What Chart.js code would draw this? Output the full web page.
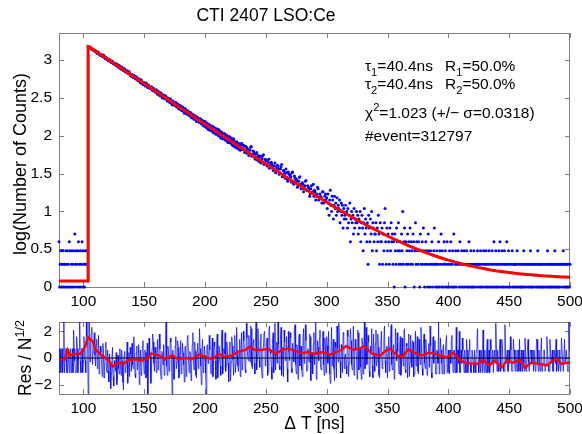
<!DOCTYPE html>
<html>
<head>
<meta charset="utf-8">
<script src="https://cdn.jsdelivr.net/npm/chart.js@4.4.1/dist/chart.umd.min.js"></script>
<style>
  body { margin: 0; background: #fff; }
  canvas { position: absolute; left: 0; }
  #decayChart { top: 0; }
  #resChart { top: 316px; }
</style>
</head>
<body>
<canvas id="decayChart" width="582" height="316"></canvas>
<canvas id="resChart" width="582" height="118"></canvas>
<script>
// ---- data ----
// log10(counts) per 0.5 ns bin, 80 .. 103.5 ns (before the rise)
var preRiseLog = [
  0.6, 0, 0.3, 0.48, 0, 0.3, 0.48, 0,
  0.3, 0.3, 0, 0.48, 0.3, 0, 0.48, 0.3,
  0, 0.6, 0.48, 0, 0.3, 0.48, 0, 0.3,
  0.48, 0, 0.7, 0.3, 0.48, 0, 0.3, 0.48,
  0.6, 0, 0.3, 0.48, 0, 0.3, 0.6, 0.48,
  0, 0.3, 0, 0.48, 0.3, 0.48, 0.3, 0.3
];
// log10(counts), whole-ns bins 104 .. 299 ns
var decayLog = [
  3.18, 3.17, 3.16, 3.15, 3.14, 3.13,
  3.13, 3.10, 3.11, 3.08, 3.07,
  3.07, 3.05, 3.06, 3.02, 3.03,
  3.02, 2.99, 3.00, 2.97, 2.98,
  2.95, 2.96, 2.93, 2.94, 2.91,
  2.92, 2.88, 2.89, 2.86, 2.88,
  2.84, 2.86, 2.82, 2.83, 2.79,
  2.81, 2.77, 2.79, 2.75, 2.77,
  2.73, 2.75, 2.70, 2.72, 2.68,
  2.70, 2.66, 2.69, 2.64, 2.66,
  2.63, 2.65, 2.60, 2.62, 2.58,
  2.61, 2.55, 2.57, 2.53, 2.56,
  2.50, 2.54, 2.49, 2.52, 2.46,
  2.49, 2.44, 2.47, 2.41, 2.45,
  2.40, 2.44, 2.38, 2.41, 2.35,
  2.39, 2.33, 2.37, 2.30, 2.35,
  2.29, 2.33, 2.27, 2.31, 2.24,
  2.28, 2.22, 2.26, 2.19, 2.24,
  2.18, 2.23, 2.16, 2.20, 2.13,
  2.19, 2.11, 2.16, 2.08, 2.14,
  2.07, 2.13, 2.04, 2.10, 2.02,
  2.09, 2.00, 2.06, 1.97, 2.04,
  1.96, 2.03, 1.94, 2.00, 1.91,
  1.99, 1.90, 1.95, 1.87, 1.93,
  1.85, 1.92, 1.83, 1.89, 1.81,
  1.90, 1.82, 1.87, 1.79, 1.85,
  1.83, 1.74, 1.81, 1.86, 1.75,
  1.79, 1.70, 1.76, 1.68, 1.74,
  1.72, 1.64, 1.70, 1.75, 1.63,
  1.67, 1.60, 1.65, 1.57, 1.63,
  1.62, 1.54, 1.60, 1.51, 1.58,
  1.60, 1.49, 1.56, 1.62, 1.47,
  1.53, 1.44, 1.51, 1.40, 1.49,
  1.48, 1.39, 1.52, 1.36, 1.44,
  1.43, 1.32, 1.40, 1.46, 1.30,
  1.38, 1.26, 1.34, 1.41, 1.28,
  1.32, 1.20, 1.30, 1.25, 1.36,
  1.28, 1.15, 1.23, 1.30, 1.18,
  1.20, 1.11, 1.26, 1.15, 1.23
];
// log10(counts), half-ns bins 104.5 .. 299.5 ns
var decayLogHalf = [
  3.17, 3.17, 3.15, 3.15, 3.13, 3.12,
  3.12, 3.09, 3.10, 3.07, 3.08,
  3.05, 3.07, 3.03, 3.04, 3.01,
  3.00, 3.01, 2.98, 2.99, 2.96,
  2.96, 2.94, 2.95, 2.91, 2.93,
  2.89, 2.91, 2.87, 2.89, 2.85,
  2.86, 2.83, 2.85, 2.81, 2.80,
  2.78, 2.80, 2.76, 2.78, 2.74,
  2.75, 2.72, 2.74, 2.70, 2.71,
  2.68, 2.70, 2.65, 2.67, 2.63,
  2.64, 2.61, 2.63, 2.59, 2.60,
  2.56, 2.59, 2.54, 2.57, 2.52,
  2.53, 2.50, 2.53, 2.48, 2.50,
  2.46, 2.49, 2.43, 2.46, 2.42,
  2.43, 2.39, 2.42, 2.36, 2.40,
  2.35, 2.38, 2.32, 2.36, 2.31,
  2.32, 2.28, 2.31, 2.25, 2.29,
  2.24, 2.27, 2.21, 2.25, 2.20,
  2.22, 2.17, 2.21, 2.14, 2.19,
  2.12, 2.17, 2.09, 2.15, 2.07,
  2.12, 2.05, 2.11, 2.03, 2.09,
  2.02, 2.08, 1.99, 2.05, 1.96,
  2.02, 1.95, 2.01, 1.92, 1.98,
  1.91, 1.97, 1.88, 1.96, 1.86,
  1.91, 1.84, 1.90, 1.82, 1.88,
  1.84, 1.88, 1.78, 1.86, 1.77,
  1.82, 1.77, 1.85, 1.73, 1.80,
  1.76, 1.69, 1.78, 1.72, 1.66,
  1.73, 1.67, 1.74, 1.62, 1.69,
  1.68, 1.61, 1.69, 1.58, 1.65,
  1.60, 1.56, 1.64, 1.53, 1.61,
  1.56, 1.51, 1.59, 1.46, 1.54,
  1.50, 1.56, 1.43, 1.52, 1.45,
  1.46, 1.51, 1.38, 1.47, 1.40,
  1.41, 1.34, 1.45, 1.36, 1.31,
  1.36, 1.30, 1.40, 1.28, 1.34,
  1.30, 1.23, 1.34, 1.26, 1.20,
  1.26, 1.20, 1.32, 1.15, 1.23,
  1.18, 1.26, 1.11, 1.20, 1.15
];
// log10(counts) per 0.5 ns bin, 300 .. 500 ns (null = empty bin)
var tailLog = [
  1.18, 1.04, 1.23, 1.11, 0.95, 1.15, 1.28, 1.08, 1.0, 1.2,
  1.15, 0.9, 1.08, 1.2, 1.04, 1.11, 0.95, 1.18, 1.0, 1.08,
  1.04, 1.15, 0.85, 1.0, 1.11, 0.95, 1.08, 0.78, 1.04, 0.9,
  0.95, 1.08, 0.9, 1.0, 0.78, 1.04, 0.85, 0.95, 1.11, 0.6,
  0.9, 1.0, 0.85, 0.95, 0.7, 1.04, 0.78, 0.9, 0.85, 1.0,
  0.85, 0.95, 0.7, 0.9, 0.78, 1.0, 0.6, 0.85, 0.95, 0.78,
  0.48, 0.85, 1.04, 0.7, 0.9, 0.78, 0.6, 0.85, 0.3, 0.95,
  0.78, 0.6, 0.9, 0.7, 1.0, 0.48, 0.85, 0.78, 0.6, 0.7,
  0.7, 0.85, 0.48, 0.78, 0.6, 0.95, 0.7, 0.3, 0.85, 0.6,
  0.6, 0.78, 0.3, 0.7, 0.48, 0.85, 1.04, 0.6, 0.3, 0.78,
  0.48, 0.7, 0.6, 0.3, 0.78, 0.48, 0.85, 0.6, 0.7, 0.3,
  0.6, 0, 0.7, 0.48, 0.3, 0.78, 0.6, 0.48, 0.85, 0.3,
  0.48, 0.6, 0.3, 0.7, 0.48, 1.0, 0.3, 0.6, 0.78, 0,
  0.6, 0.3, 0.48, 0.7, 0.3, 0.6, 0.48, 0.78, 0.3, 0.6,
  0.48, 0.3, 0.7, 0.6, 0, 0.48, 0.85, 0.3, 0.6, 0.48,
  0.3, 0.6, 0.48, 0, 0.7, 0.3, 0.48, 0.6, 0.3, 0.78,
  0.48, 0, 0.3, 0.6, 0.48, 0.3, 0, 0.7, 0.48, 0.3,
  0, 0.48, 0.3, 0.6, 0, 0.3, 0.48, 0.78, 0.3, 0,
  0.3, 0.48, 0, 0.3, 0.6, 0, 0.48, 0.3, 0.7, 0,
  0.48, 0.3, 0, 0.6, 0.3, 0.48, 0, 0.3, 0.6, 0,
  0.3, 0, 0.48, 0.3, 0.6, 0, 0.3, 0.48, 0, 0.7,
  0, 0.3, 0.48, 0, 0.3, null, 0.48, 0.3, 0, 0.6,
  0.3, 0, 0.48, 0.3, 0, 0.3, 0.48, 0, null, 0.3,
  0.48, 0, 0.3, 0, 0.6, 0.3, 0, 0.48, 0.3, 0,
  0, 0.3, 0.48, 0, 0.3, null, 0.3, 0, 0.48, 0.3,
  0.3, 0, 0.3, 0.48, 0, 0.3, 0, null, 0.48, 0.3,
  0, 0.3, 0.48, 0, 0.3, 0, 0.3, 0.48, 0, null,
  0.3, 0, 0.48, 0.3, 0, 0.6, 0.3, 0, 0.48, 0.3,
  0, 0.3, 0, 0.48, 0.3, 0.6, 0, 0.3, 0.48, 0,
  0.3, 0, 0.48, 0.3, 0, 0.3, 0.6, 0, 0.3, 0.48,
  0, 0.3, 0, null, 0.3, 0.48, 0, 0.3, 0, 0.3,
  0.3, 0, 0.3, 0.48, 0, 0.3, null, 0, 0.3, 0,
  0, 0.3, 0, 0.3, 0.48, 0, 0.3, 0, 0.3, null,
  0.3, 0, 0.3, 0, 0.3, 0.48, 0, 0.3, 0, 0.3,
  0, 0.3, null, 0.3, 0, 0.3, 0, 0.48, 0.3, 0,
  0.3, 0, 0.3, 0, 0.3, 0, 0.3, 0, null, 0.3,
  0, 0.3, 0, 0.48, 0.3, 0, 0.3, 0, 0.3, 0,
  0.3, 0, 0.3, 0, 0.3, 0.48, 0, 0.3, 0, 0.3,
  0, 0.3, 0, 0.3, 0, 0.3, null, 0.3, 0, 0.48,
  0.3, 0, 0.3, 0, 0.3, 0, 0.3, 0, 0.3, 0,
  0.3
];
// fitted curve: flat background, rise at 104 ns, then values every 5 ns from 105 to 500
var fitBackground = 0.08;
var fitRiseTime = 104;
var fitPeak = 3.18;
var fitLog = [
  3.175, 3.121, 3.067, 3.013, 2.960, 2.906, 2.852, 2.798, 2.745, 2.691,
  2.637, 2.583, 2.530, 2.476, 2.422, 2.368, 2.315, 2.261, 2.207, 2.156,
  2.103, 2.050, 1.998, 1.945, 1.892, 1.839, 1.786, 1.734, 1.681, 1.629,
  1.577, 1.525, 1.473, 1.422, 1.371, 1.320, 1.270, 1.220, 1.171, 1.122,
  1.073, 1.026, 0.979, 0.933, 0.887, 0.843, 0.799, 0.757, 0.715, 0.675,
  0.636, 0.599, 0.563, 0.529, 0.496, 0.464, 0.435, 0.407, 0.380, 0.356,
  0.332, 0.311, 0.291, 0.273, 0.256, 0.241, 0.226, 0.213, 0.202, 0.191,
  0.181, 0.173, 0.165, 0.158, 0.151, 0.146, 0.141, 0.136, 0.132, 0.129
];
// residuals at whole ns, 80 .. 500 ns
var residuals = [
  -1.1, 0.7, -0.2, -1.1, 2.7, -0.2, 0.7, -1.1, 0.7, -0.2,
  -1.1, 0.7, 2.1, -0.2, -1.1, 0.7, -0.2, 2.7, -1.1, 0.7,
  -0.2, 0.7, -1.1, 1.6, -2.7, 2.7, 1.2, 2.3, 0.4, 1.9,
  -0.6, 1.4, 0.3, -1.2, 0.9, -0.4, 1.1, -1.5, 0.2, -0.9,
  0.6, -1.8, -0.3, -1.1, 0.8, -2.1, -0.5, 0.4, -1.6, -0.8,
  0.7, -1.3, -0.2, -2.4, 0.5, -0.9, 1.2, -0.6, -1.4, 0.3,
  1.1, -0.8, 0.2, -1.5, 0.9, -0.3, -2.0, 0.6, -0.7, 1.3,
  -1.2, 0.4, -0.8, -2.7, 1.5, 0.1, -0.9, 1.8, -0.4, 0.8,
  -1.1, 1.4, -0.2, 0.7, -1.6, 0.3, 1.0, -0.8, 2.7, -1.3,
  0.5, -0.6, 1.2, -2.7, 0.2, -1.0, 1.6, -0.3, 0.8, -1.4,
  1.3, -0.7, 0.4, -1.8, 0.9, -0.2, 1.7, -1.1, 0.3, -0.6,
  1.9, -0.9, 0.5, -1.5, 1.1, -0.4, 0.7, -2.0, 1.4, -0.5,
  0.2, -2.7, 1.0, -0.3, 0.6, -1.2, 1.5, -0.7, 0.9, -1.6,
  1.8, -0.2, 0.4, -1.3, 2.1, -0.8, 0.3, -1.0, 1.2, -0.4,
  0.8, -1.7, 1.6, -0.1, 0.5, -1.1, 2.3, -0.6, 0.2, -1.4,
  1.9, -0.5, 1.3, -0.9, 2.6, 0.1, 1.7, -0.3, 2.2, -0.8,
  1.4, -1.2, 2.7, 0.2, 1.0, -0.7, 1.8, -1.5, 0.6, 2.0,
  -0.4, 1.5, -1.0, 2.4, 0.3, -1.6, 1.9, 0.0, -0.9, 1.2,
  2.7, -0.6, 1.3, -1.3, 0.8, 2.1, -0.2, 1.6, -1.8, 0.5,
  1.9, -0.8, 1.1, -0.3, 2.5, -1.2, 0.7, 1.4, -0.6, 0.9,
  -1.4, 2.2, 0.1, 1.3, -0.9, 0.6, 1.8, -1.7, 0.4, 1.0,
  -0.5, 2.7, -1.1, 0.8, 1.5, -0.7, 0.3, 2.0, -1.3, 0.9,
  1.6, -0.4, 0.2, -1.9, 2.3, 0.5, -0.8, 1.2, -1.5, 0.7,
  2.6, -0.3, 1.0, -1.1, 1.8, 0.2, -0.6, 2.1, -1.4, 0.8,
  1.3, -0.9, 2.4, -0.2, 0.6, -1.6, 1.9, 0.1, -0.7, 1.5,
  -1.2, 2.7, 0.4, -0.5, 1.7, -1.0, 0.9, 2.2, -1.5, 0.3,
  1.1, -0.6, 1.8, -1.3, 0.5, 2.0, -0.8, 1.4, -0.2, 0.7,
  -1.5, 1.6, 0.2, 2.5, -0.9, 1.0, -1.2, 0.6, 1.9, -0.4,
  0.8, -1.3, 1.5, -0.6, 2.2, -1.1, 0.9, 0.1, -1.4, 1.7,
  -0.7, 1.2, -1.2, 2.0, 0.3, -1.0, 1.4, -0.5, 0.7, -1.3,
  1.8, -0.8, 0.5, -1.2, 1.1, 2.4, -1.1, 0.6, -0.4, 1.3,
  -1.2, 0.5, 2.7, -0.6, 0.6, -1.2, 1.0, -0.4, 0.6, -1.1,
  0.6, -1.2, -0.4, 1.7, -1.1, 0.6, -0.4, -1.1, 0.6, 2.0,
  -1.1, -0.4, 0.6, -1.1, -0.4, 1.4, -1.1, 0.6, -0.4, -1.1,
  0.6, -1.1, -0.4, 0.6, 2.2, -1.1, -0.4, 0.6, -1.1, -0.4,
  0.6, -1.1, 1.4, -0.4, -1.1, 0.6, -0.4, -1.1, 0.6, 2.6,
  -1.0, -0.4, 0.6, -1.0, 1.4, -0.4, -1.0, 0.6, -0.4, -1.0,
  0.6, 1.6, -1.0, -0.4, 0.6, -1.0, -0.4, 0.6, -1.0, -0.4,
  0.6, -1.0, -0.4, 1.5, -1.0, 0.6, -0.4, -1.0, 0.6, -0.4,
  -1.0, 0.6, -0.4, 1.4, -1.0, -0.4, 0.6, -1.0, -0.4, 0.6,
  -1.0, 1.6, -0.4, -1.0, 0.6, -0.4, -1.0, 0.6, -0.4, -1.0,
  0.6, -0.4, -1.0, 1.5, 0.6, -1.0, -0.4, 0.6, -1.0, 2.7,
  0.6
];
// residuals at half ns, 80.5 .. 499.5 ns
var residualsHalf = [
  0.7, -1.1, 0.7, -0.2, -1.1, 0.7, -1.1, -0.2, -1.1, 0.7,
  -0.2, -1.1, 0.7, -1.1, 1.6, -1.1, 0.7, -0.2, 0.7, -1.1,
  1.6, -0.2, 2.7, 0.9, 2.7, -0.3, 1.8, -0.5, 1.3, 0.2,
  1.0, -0.8, 1.7, -0.3, 0.4, -1.4, 0.8, -0.6, 1.2, -1.1,
  -1.0, 0.3, -2.3, 0.1, -1.4, -0.2, -1.0, -2.0, 0.2, -1.2,
  -0.4, 0.6, -1.8, 0.2, -1.1, -0.3, -1.9, 0.4, 0.8, -1.0,
  -0.5, 1.6, -1.2, 0.4, -0.9, 1.0, -0.6, -1.3, 0.9, -0.2,
  0.6, -1.5, 1.1, -0.4, 0.3, -1.9, 0.7, 1.2, -1.0, 0.1,
  0.4, -0.9, 1.8, -1.2, 0.5, -0.5, -1.3, 1.1, -0.6, 0.9,
  -1.0, 1.5, -0.4, 0.6, -1.6, 0.9, -0.8, 1.3, -1.5, 0.4,
  -1.2, 1.1, -0.5, 0.8, -1.4, 1.6, -0.3, 0.5, -1.7, 1.0,
  -0.3, 1.2, -1.3, 0.6, -0.8, 2.2, -0.6, 0.4, -1.1, 0.9,
  -1.1, 0.8, -0.4, 1.7, -0.9, 0.3, -1.4, 1.2, -0.2, 0.6,
  -1.5, 0.9, -0.6, 1.4, -1.2, 0.7, 1.9, -0.5, 0.2, -1.8,
  1.2, -0.3, 0.9, -1.3, 1.7, -0.4, 0.6, -1.0, 1.4, 0.3,
  -0.9, 2.0, 0.4, -1.1, 1.5, -0.2, 0.8, 2.4, -0.6, 1.2,
  -0.4, 1.6, -0.9, 2.2, -0.1, 1.3, -1.0, 0.7, 1.9, -0.6,
  1.1, -1.3, 2.0, 0.5, -0.7, 1.4, -1.1, 2.6, 0.2, -0.4,
  1.0, -0.9, 2.3, 0.1, -1.4, 1.2, 0.4, -0.8, 2.0, -0.2,
  1.5, -1.1, 0.6, 2.2, -0.5, 1.0, -1.6, 1.8, 0.3, -0.9,
  1.2, -0.4, 2.5, -1.0, 0.7, -0.3, 1.6, 0.2, -1.2, 1.9,
  0.4, -1.6, 1.3, -0.2, 2.1, -0.9, 0.8, -0.5, 1.5, -1.1,
  0.9, 2.0, -1.2, 0.5, -0.6, 1.4, -1.7, 0.8, 2.4, -0.3,
  1.1, -1.5, 0.6, 1.9, -0.8, 0.3, -1.2, 1.6, -0.4, 2.2,
  -0.5, 0.9, -1.3, 1.4, 0.2, 2.1, -0.9, 0.7, -1.6, 1.0,
  0.6, -0.8, 2.3, -0.1, 1.2, -1.4, 0.5, -0.6, 1.8, -1.0,
  2.1, -0.3, 0.8, -1.5, 1.3, -0.7, 0.4, 2.4, -1.1, 0.9,
  0.3, -1.0, 1.4, -0.5, 0.7, -1.6, 2.2, -0.2, 0.5, -1.2,
  1.6, -0.4, 0.2, 2.0, -0.9, 1.1, -1.5, 1.8, -0.3, 0.6,
  1.3, -1.4, 0.8, -0.6, 1.6, -1.2, 0.2, 2.3, -0.8, 1.0,
  -0.4, 1.4, -1.3, 0.6, -0.7, 0.9, -1.5, 1.6, 0.2, -1.2,
  0.6, -0.4, -1.2, 1.5, -0.4, 0.6, -1.2, 0.6, 1.7, -0.4,
  -1.1, 0.6, 1.4, -0.4, 0.6, -1.1, 2.3, 0.6, -0.4, -1.1,
  0.6, 1.5, -0.4, 0.6, -1.1, 0.6, -0.4, 1.4, -1.1, 0.6,
  -0.4, 0.6, -1.1, 1.4, -0.4, 0.6, -1.1, 0.6, 2.1, -1.1,
  -0.4, 0.6, -1.1, 0.6, 1.4, -0.4, 0.6, -1.1, -0.4, 0.6,
  0.6, -1.0, 1.4, -0.4, 0.6, -1.0, 2.5, -0.4, 0.6, -1.0,
  -0.4, 0.6, -1.0, 1.4, -0.4, 0.6, -1.0, 0.6, 1.4, -1.0,
  -0.4, 0.6, -1.0, 0.6, -0.4, 1.4, -1.0, 0.6, -0.4, 0.6,
  0.6, -1.0, 1.4, -0.4, 0.6, -1.0, 1.5, -0.4, 0.6, -1.0,
  -0.4, 0.6, -1.0, 1.4, -0.4, 0.6, -1.0, 0.6, 1.4, -0.4,
  -1.0, 0.6, -0.4, 0.6, -1.0, 1.4, -0.4, 0.6, -1.0, 0.6
];
// smoothed residual (red), [time ns, value]
var smoothRes = [
  [80, -0.1], [85, -0.1], [87, 0.6], [89, 0.2], [92, 0.3], [97, 0.3], [100, 0.6],
  [102, 1.0], [104, 1.55], [106, 1.4], [108, 1.2], [110, 0.6], [113, 0.4], [115, 0.2],
  [118, 0.0], [121, -0.2], [124, -0.65], [126, -0.5], [129, -0.35], [133, -0.45],
  [137, -0.15], [142, -0.1], [148, -0.2], [153, 0.0], [156, 0.35], [162, 0.2],
  [167, -0.1], [173, 0.2], [178, -0.1], [184, 0.0], [189, -0.1], [195, 0.25],
  [200, 0.1], [206, -0.1], [211, 0.3], [216, 0.1], [222, 0.2], [227, 0.45],
  [233, 0.6], [237, 0.85], [241, 0.6], [247, 0.6], [252, 0.7], [258, 0.3],
  [263, 0.6], [268, 0.7], [274, 0.55], [279, 0.35], [285, 0.45], [289, 0.3],
  [297, 0.45], [303, 0.25], [308, 0.45], [312, 0.6], [316, 0.9], [322, 0.6],
  [327, 0.7], [331, 0.9], [337, 0.35], [344, 0.2], [348, 0.5], [352, 0.7],
  [358, 0.2], [362, 0.05], [367, 0.65], [373, 0.35], [379, 0.2], [384, 0.4],
  [388, 0.35], [393, 0.2], [399, 0.05], [404, 0.4], [407, 0.1], [410, -0.2],
  [415, -0.4], [420, -0.4], [423, -0.45], [429, -0.2], [434, -0.55], [438, -0.2],
  [444, -0.7], [448, -0.2], [453, -0.35], [459, -0.15], [463, -0.75], [468, -0.35],
  [475, -0.45], [481, -0.55], [486, -0.2], [489, -0.05], [493, -0.45], [498, -0.35],
  [500, -0.35]
];
var xTickValues = [100, 150, 200, 250, 300, 350, 400, 450, 500];
var countTickValues = [0, 0.5, 1, 1.5, 2, 2.5, 3];
var resTickValues = [-2, 0, 2];

// ---- build point lists ----
var scatterPts = [];
preRiseLog.forEach(function (v, i) { scatterPts.push({ x: 80 + i * 0.5, y: v }); });
decayLog.forEach(function (v, i) {
  scatterPts.push({ x: 104 + i, y: v });
  scatterPts.push({ x: 104.5 + i, y: decayLogHalf[i] });
});
tailLog.forEach(function (v, i) { scatterPts.push({ x: 300 + i * 0.5, y: v }); });

var fitPts = [{ x: 80, y: fitBackground }, { x: fitRiseTime, y: fitBackground }, { x: fitRiseTime, y: fitPeak }];
fitLog.forEach(function (v, i) { fitPts.push({ x: 105 + i * 5, y: v }); });

var resPts = [];
residuals.forEach(function (v, i) {
  resPts.push({ x: 80 + i, y: v });
  if (i < residualsHalf.length) resPts.push({ x: 80.5 + i, y: residualsHalf[i] });
});
var smoothPts = smoothRes.map(function (p) { return { x: p[0], y: p[1] }; });

var FONT = '"Liberation Sans", Arial, Helvetica, sans-serif';
var FRAME = '#7f7f7f';

function fixTicks(values) {
  return function (scale) { scale.ticks = values.map(function (v) { return { value: v }; }); };
}
function fitX(h) {
  return function (s) { s.height = h; s.paddingLeft = 0; s.paddingRight = 0; };
}
function fitY(s) { s.width = 59; s.paddingTop = 0; s.paddingBottom = 0; }
function tickText(v) { return String(v).replace('-', '−'); }

// text with sub/superscripts: parts = [[text, mode]] mode -1 sub, 1 sup
function drawRich(ctx, x, y, parts, size) {
  var cx = x;
  parts.forEach(function (p) {
    var s = p[1] ? size * 0.72 : size;
    ctx.font = s + 'px ' + FONT;
    var dy = p[1] === -1 ? size * 0.32 : (p[1] === 1 ? -size * 0.42 : 0);
    ctx.fillText(p[0], cx, y + dy);
    cx += ctx.measureText(p[0]).width;
  });
  return cx - x;
}
function richWidth(ctx, parts, size) {
  var w = 0;
  parts.forEach(function (p) {
    ctx.font = (p[1] ? size * 0.72 : size) + 'px ' + FONT;
    w += ctx.measureText(p[0]).width;
  });
  return w;
}

// box + inward ticks on all four sides, drawn under the data
var framePlugin = {
  id: 'frame',
  beforeDatasetsDraw: function (chart) {
    var ctx = chart.ctx, a = chart.chartArea;
    var xs = chart.scales.x, ys = chart.scales.y;
    ctx.save();
    ctx.strokeStyle = FRAME;
    ctx.lineWidth = 1;
    ctx.strokeRect(a.left + 0.5, a.top + 0.5, a.right - a.left - 1, a.bottom - a.top);
    ctx.beginPath();
    xs.ticks.forEach(function (t) {
      var px = Math.round(xs.getPixelForValue(t.value)) + 0.5;
      ctx.moveTo(px, a.bottom); ctx.lineTo(px, a.bottom - 5);
      ctx.moveTo(px, a.top); ctx.lineTo(px, a.top + 5);
    });
    ys.ticks.forEach(function (t) {
      var py = Math.round(ys.getPixelForValue(t.value)) + 0.5;
      ctx.moveTo(a.left, py); ctx.lineTo(a.left + 5, py);
      ctx.moveTo(a.right, py); ctx.lineTo(a.right - 5, py);
    });
    ctx.stroke();
    ctx.restore();
  }
};

var decayText = {
  id: 'decayText',
  afterDraw: function (chart) {
    var ctx = chart.ctx;
    ctx.save();
    ctx.fillStyle = '#000';
    ctx.textBaseline = 'alphabetic';
    ctx.textAlign = 'center';
    ctx.font = '17.5px ' + FONT;
    ctx.fillText('CTI 2407 LSO:Ce', 266, 21);

    ctx.textAlign = 'left';
    var fs = 15.5;
    drawRich(ctx, 365, 71, [['τ', 0], ['1', -1], ['=40.4ns', 0]], fs);
    drawRich(ctx, 445, 71, [['R', 0], ['1', -1], ['=50.0%', 0]], fs);
    drawRich(ctx, 365, 89, [['τ', 0], ['2', -1], ['=40.4ns', 0]], fs);
    drawRich(ctx, 445, 89, [['R', 0], ['2', -1], ['=50.0%', 0]], fs);
    drawRich(ctx, 365, 118, [['χ', 0], ['2', 1], ['=1.023 (+/− σ=0.0318)', 0]], fs);
    drawRich(ctx, 365, 141, [['#event=312797', 0]], fs);

    ctx.translate(21, 164);
    ctx.rotate(-Math.PI / 2);
    ctx.textAlign = 'center';
    ctx.textBaseline = 'middle';
    ctx.font = '18px ' + FONT;
    ctx.fillText('log(Number of Counts)', 0, 0);
    ctx.restore();
  }
};

var resText = {
  id: 'resText',
  afterDraw: function (chart) {
    var ctx = chart.ctx, a = chart.chartArea;
    ctx.save();
    ctx.fillStyle = '#000';
    ctx.textAlign = 'center';
    ctx.textBaseline = 'alphabetic';
    ctx.font = '17.5px ' + FONT;
    ctx.fillText('Δ T [ns]', (a.left + a.right) / 2, a.bottom + 35);

    var parts = [['Res / N', 0], ['1/2', 1]];
    ctx.translate(31, (a.top + a.bottom) / 2);
    ctx.rotate(-Math.PI / 2);
    ctx.textAlign = 'left';
    var w = richWidth(ctx, parts, 17.5);
    drawRich(ctx, -w / 2, 0, parts, 17.5);
    ctx.restore();
  }
};

Chart.defaults.font.family = FONT;
Chart.defaults.color = '#000';

new Chart(document.getElementById('decayChart'), {
  type: 'line',
  data: {
    datasets: [
      { data: fitPts, borderColor: '#ff0000', borderWidth: 3, pointRadius: 0, tension: 0, fill: false },
      { data: scatterPts, showLine: false, pointRadius: 1.5, pointBorderWidth: 0,
        pointBackgroundColor: '#0000ff', borderColor: '#0000ff', clip: 4 }
    ]
  },
  options: {
    responsive: false,
    animation: false,
    devicePixelRatio: 1,
    layout: { padding: { left: 0, top: 33, right: 12, bottom: 0 } },
    plugins: { legend: { display: false }, title: { display: false }, tooltip: { enabled: false } },
    scales: {
      x: {
        type: 'linear', min: 80, max: 500,
        afterBuildTicks: fixTicks(xTickValues),
        afterFit: fitX(29),
        grid: { display: false, drawTicks: false },
        border: { display: false },
        ticks: { padding: 5, font: { size: 15.5 }, maxRotation: 0, callback: tickText }
      },
      y: {
        type: 'linear', min: 0, max: 3.36,
        afterBuildTicks: fixTicks(countTickValues),
        afterFit: fitY,
        grid: { display: false, drawTicks: false },
        border: { display: false },
        ticks: { padding: 7, font: { size: 15.5 }, callback: tickText }
      }
    }
  },
  plugins: [framePlugin, decayText]
});

new Chart(document.getElementById('resChart'), {
  type: 'line',
  data: {
    datasets: [
      { data: smoothPts, borderColor: '#ff0000', borderWidth: 2.4, pointRadius: 0, tension: 0, fill: false },
      { data: [{ x: 80, y: 0 }, { x: 500, y: 0 }], borderColor: '#000', borderWidth: 1.2, pointRadius: 0 },
      { data: resPts, borderColor: 'rgba(0,0,255,0.7)', borderWidth: 1, pointRadius: 0, tension: 0 }
    ]
  },
  options: {
    responsive: false,
    animation: false,
    devicePixelRatio: 1,
    layout: { padding: { left: 0, top: 6, right: 12, bottom: 0 } },
    plugins: { legend: { display: false }, title: { display: false }, tooltip: { enabled: false } },
    scales: {
      x: {
        type: 'linear', min: 80, max: 500,
        afterBuildTicks: fixTicks(xTickValues),
        afterFit: fitX(40),
        grid: { display: false, drawTicks: false },
        border: { display: false },
        ticks: { padding: 5, font: { size: 15.5 }, maxRotation: 0, callback: tickText }
      },
      y: {
        type: 'linear', min: -2.7, max: 2.7,
        afterBuildTicks: fixTicks(resTickValues),
        afterFit: fitY,
        grid: { display: false, drawTicks: false },
        border: { display: false },
        ticks: { padding: 7, font: { size: 15.5 }, callback: tickText }
      }
    }
  },
  plugins: [framePlugin, resText]
});
</script>
</body>
</html>
